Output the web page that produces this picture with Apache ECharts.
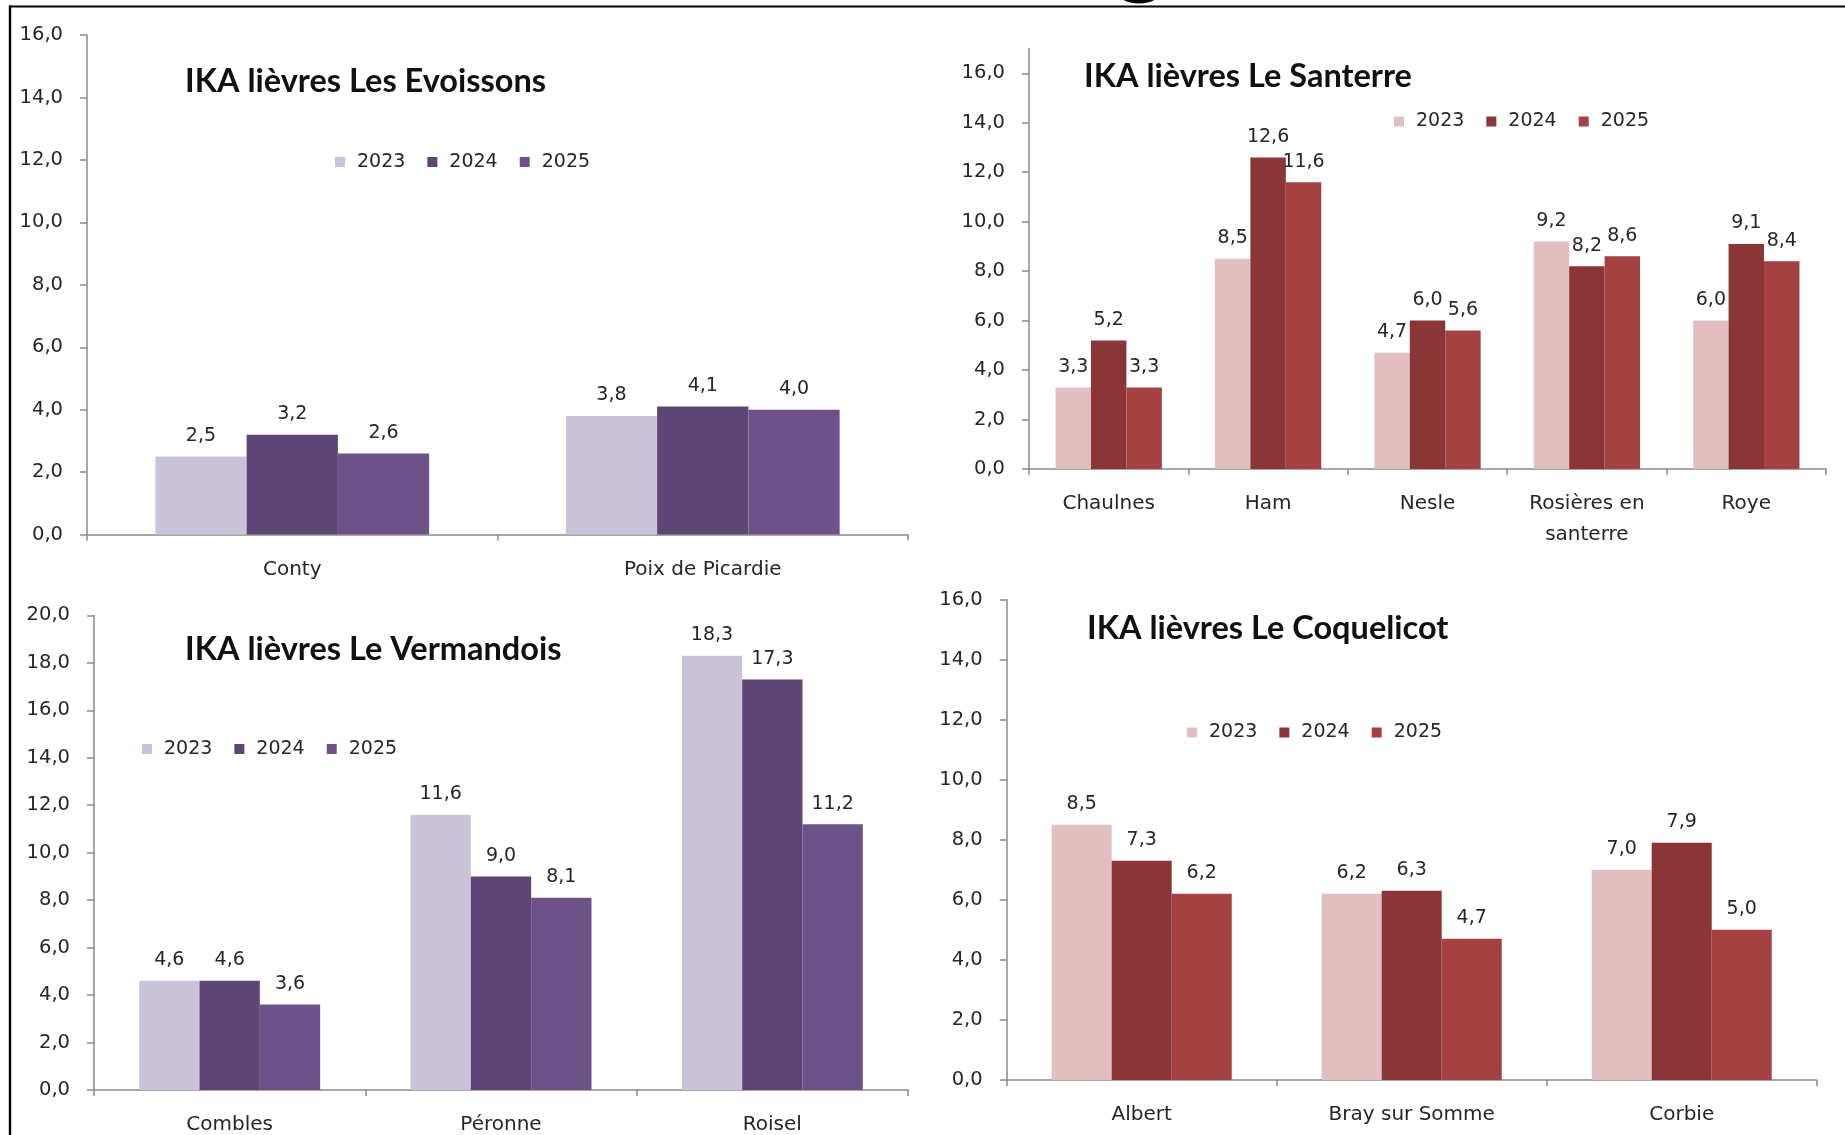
<!DOCTYPE html>
<html>
<head>
<meta charset="utf-8">
<script src="https://cdn.jsdelivr.net/npm/echarts@6/dist/echarts.min.js"></script>
<style>
html,body{margin:0;padding:0;background:#fff;}
#c{width:1845px;height:1135px;}
</style>
</head>
<body>
<div id="c"></div>
<script>
// ---- Data ----
const years = ['2023', '2024', '2025'];

const titles = ['IKA lièvres Les Evoissons', 'IKA lièvres Le Santerre', 'IKA lièvres Le Vermandois', 'IKA lièvres Le Coquelicot'];

const catEvoissons = ['Conty', 'Poix de Picardie'];
const evo2023 = [2.5, 3.8];
const evo2024 = [3.2, 4.1];
const evo2025 = [2.6, 4.0];

const catSanterre = ['Chaulnes', 'Ham', 'Nesle', 'Rosières en\nsanterre', 'Roye'];
const san2023 = [3.3, 8.5, 4.7, 9.2, 6.0];
const san2024 = [5.2, 12.6, 6.0, 8.2, 9.1];
const san2025 = [3.3, 11.6, 5.6, 8.6, 8.4];

const catVermandois = ['Combles', 'Péronne', 'Roisel'];
const ver2023 = [4.6, 11.6, 18.3];
const ver2024 = [4.6, 9.0, 17.3];
const ver2025 = [3.6, 8.1, 11.2];

const catCoquelicot = ['Albert', 'Bray sur Somme', 'Corbie'];
const coq2023 = [8.5, 6.2, 7.0];
const coq2024 = [7.3, 6.3, 7.9];
const coq2025 = [6.2, 4.7, 5.0];

const yMax = [16, 17, 20, 16];
const yTicks16 = [0, 2, 4, 6, 8, 10, 12, 14, 16];
const yTicks20 = [0, 2, 4, 6, 8, 10, 12, 14, 16, 18, 20];

// ---- Styles ----
const FONT = 'DejaVu Sans';
const TFONT = 'Lato';
const purple = ['#CBC3D7', '#5D4676', '#6C5289'];
const red = ['#E2BFC1', '#8A3636', '#A44242'];
const axisGray = '#8a8a8a';
const txt = '#262626';

const grids = [
  {left: 87, top: 35, width: 821, height: 499.6},
  {left: 1029, top: 48.6, width: 797, height: 420.4},
  {left: 94, top: 615.4, width: 814, height: 476},
  {left: 1006.7, top: 599.5, width: 810, height: 480.5}
];
const titlePos = [
  {left: 185, top: 65.5},
  {left: 1084, top: 60.5},
  {left: 185, top: 633.5},
  {left: 1087, top: 612.5}
];
const legendPos = [
  {left: 335, top: 152.5},
  {left: 1394, top: 112},
  {left: 142, top: 739.5},
  {left: 1187, top: 723}
];

const fmt = v => Number(v).toFixed(1).replace('.', ',');

const charts = [
  {cats: catEvoissons, data: [evo2023, evo2024, evo2025], colors: purple, prefix: 'P', ticks: yTicks16},
  {cats: catSanterre, data: [san2023, san2024, san2025], colors: red, prefix: 'R', ticks: yTicks16},
  {cats: catVermandois, data: [ver2023, ver2024, ver2025], colors: purple, prefix: 'P', ticks: yTicks20},
  {cats: catCoquelicot, data: [coq2023, coq2024, coq2025], colors: red, prefix: 'R', ticks: yTicks16}
];

const xAxis = [], yAxis = [], series = [], legend = [], title = [];
charts.forEach((c, i) => {
  xAxis.push({
    type: 'category', gridIndex: i, data: c.cats, boundaryGap: true,
    axisLine: {show: true, lineStyle: {color: axisGray, width: 1.5}},
    axisTick: {show: true, length: 6, alignWithLabel: false, lineStyle: {color: axisGray, width: 1.5}},
    axisLabel: {
      interval: 0, color: txt, fontFamily: FONT, fontSize: 20,
      margin: i === 1 ? 19 : 25, lineHeight: i === 1 ? 31 : 20
    },
    splitLine: {show: false}
  });
  yAxis.push({
    type: 'value', gridIndex: i, min: 0, max: yMax[i], interval: 2,
    axisLine: {show: true, lineStyle: {color: axisGray, width: 1.5}},
    axisTick: {show: true, length: 7, lineStyle: {color: axisGray, width: 1.5}, customValues: c.ticks},
    axisLabel: {
      color: txt, fontFamily: FONT, fontSize: 19.5, margin: 24,
      padding: [5, 0, 0, 0],
      customValues: c.ticks,
      formatter: v => (c.ticks.indexOf(v) >= 0 ? fmt(v) : '')
    },
    splitLine: {show: false}
  });
  years.forEach((y, k) => {
    series.push({
      type: 'bar', name: c.prefix + y, xAxisIndex: i, yAxisIndex: i,
      data: c.data[k], barGap: '0%', barCategoryGap: '33.3%',
      itemStyle: {color: c.colors[k]},
      label: {
        show: true, position: 'top', distance: 11, color: txt,
        fontFamily: FONT, fontSize: 19, formatter: p => fmt(p.value)
      },
      emphasis: {disabled: true}
    });
  });
  legend.push({
    left: legendPos[i].left, top: legendPos[i].top, padding: 0,
    orient: 'horizontal', icon: 'rect', itemWidth: 10, itemHeight: 10, itemGap: 22,
    data: years.map(y => c.prefix + y),
    formatter: n => n.slice(1),
    selectedMode: false,
    textStyle: {color: txt, fontFamily: FONT, fontSize: 19, padding: [0, 0, 0, 7]}
  });
  title.push({
    text: titles[i], left: titlePos[i].left, top: titlePos[i].top, padding: 0,
    textStyle: {color: '#111', fontFamily: TFONT, fontSize: 32.5, fontWeight: 'bold'}
  });
});

const chart = echarts.init(document.getElementById('c'), null, {renderer: 'canvas'});
chart.setOption({
  backgroundColor: '#ffffff',
  animation: false,
  title: title,
  legend: legend,
  grid: grids,
  xAxis: xAxis,
  yAxis: yAxis,
  series: series,
  graphic: [
    {type: 'line', shape: {x1: 9, y1: 6.5, x2: 1845, y2: 6.5}, style: {stroke: '#000', lineWidth: 2.2}, silent: true},
    {type: 'line', shape: {x1: 10, y1: 5.5, x2: 10, y2: 1135}, style: {stroke: '#000', lineWidth: 2.4}, silent: true},
    {type: 'ellipse', shape: {cx: 1139, cy: -5, rx: 19, ry: 8.5}, style: {fill: '#000'}, silent: true}
  ]
});
</script>
</body>
</html>
